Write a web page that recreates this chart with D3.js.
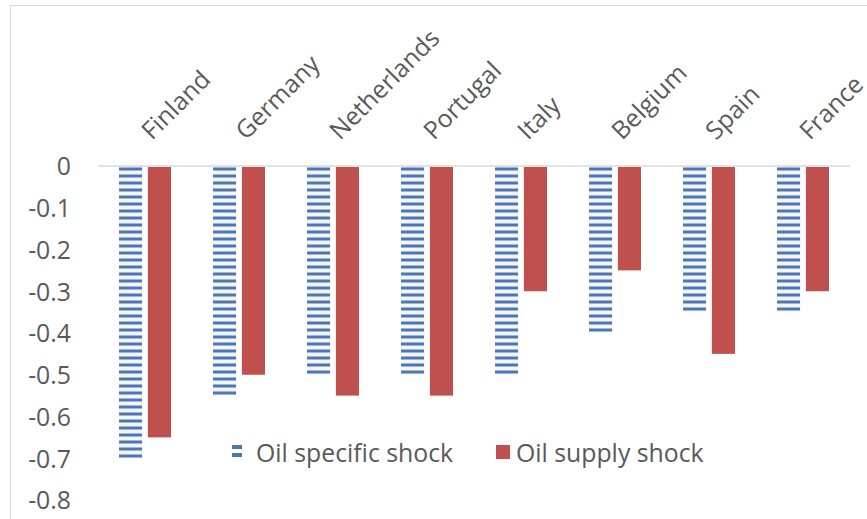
<!DOCTYPE html>
<html><head><meta charset="utf-8">
<script src="https://cdn.jsdelivr.net/npm/d3@7"></script>
<style>body{margin:0;background:#fff}svg{display:block}</style>
</head><body>
<svg id="c" width="867" height="519"></svg>
<script>
const categories = ["Finland","Germany","Netherlands","Portugal","Italy","Belgium","Spain","France"];
const oilSpecific = [-0.70,-0.55,-0.50,-0.50,-0.50,-0.40,-0.35,-0.35];
const oilSupply = [-0.65,-0.50,-0.55,-0.55,-0.30,-0.25,-0.45,-0.30];
const yTicks = [0,-0.1,-0.2,-0.3,-0.4,-0.5,-0.6,-0.7,-0.8];
const seriesNames = ["Oil specific shock","Oil supply shock"];

const svg = d3.select("#c");
const font = "'Open Sans', sans-serif";
const txt = "#595959";

// fit font size to reference legend text width
const probe = svg.append("text").attr("font-family",font).attr("font-size",20).text(seriesNames[0]);
const w20 = probe.node().getComputedTextLength();
probe.remove();
const fs = Math.round(20*197/w20*10)/10;

svg.append("rect").attr("x",10.5).attr("y",5.5).attr("width",900).attr("height",600)
  .attr("fill","none").attr("stroke","#d9d9d9");

const defs = svg.append("defs");
const pat = defs.append("pattern").attr("id","stripe").attr("patternUnits","userSpaceOnUse")
  .attr("width",8).attr("height",7.0).attr("y",166);
pat.append("rect").attr("width",8).attr("height",7).attr("fill","#f3f6fb");
pat.append("rect").attr("y",1.5).attr("width",8).attr("height",3).attr("fill","#4f76b4");

const x = d3.scaleBand().domain(categories).range([98,850]);
const y = d3.scaleLinear().domain([0,-0.8]).range([166,500]);
const inner = d3.scaleBand().domain([0,1]).range([x.bandwidth()/2-26, x.bandwidth()/2+26]).paddingInner(0.2);

const yAxis = d3.axisLeft(y).tickValues(yTicks)
  .tickFormat(d => d===0 ? "0" : d3.format(".1f")(d).replace("\u2212","-")).tickSize(0).tickPadding(0);
const ga = svg.append("g").attr("transform","translate(71,0)").call(yAxis);
ga.select(".domain").remove();
ga.selectAll("text").attr("font-family",font).attr("font-size",fs).attr("fill",txt).attr("dy","0.36em");

svg.append("line").attr("x1",98).attr("x2",850).attr("y1",y(0)).attr("y2",y(0))
  .attr("stroke","#d9d9d9").attr("stroke-width",1.5);

const g = svg.append("g");
g.selectAll("rect.s1").data(categories).join("rect").attr("class","s1")
  .attr("x",(d)=>x(d)+inner(0)).attr("width",inner.bandwidth())
  .attr("y",y(0)+1).attr("height",(d,i)=>y(oilSpecific[i])-y(0)-1)
  .attr("fill","url(#stripe)");
g.selectAll("rect.s2").data(categories).join("rect").attr("class","s2")
  .attr("x",(d)=>x(d)+inner(1)).attr("width",inner.bandwidth())
  .attr("y",y(0)+1).attr("height",(d,i)=>y(oilSupply[i])-y(0)-1)
  .attr("fill","#c0504d");

svg.selectAll("text.cat").data(categories).join("text").attr("class","cat")
  .attr("transform",d=>`translate(${x(d)+x.bandwidth()/2+7},141) rotate(-45)`)
  .attr("font-family",font).attr("font-size",fs).attr("fill",txt).text(d=>d);

const lg = svg.append("g");
lg.append("rect").attr("x",232).attr("y",445).attr("width",10).attr("height",4).attr("fill","#4f76b4");
lg.append("rect").attr("x",232).attr("y",453).attr("width",10).attr("height",4).attr("fill","#4f76b4");
lg.append("text").attr("x",256).attr("y",462).attr("font-family",font).attr("font-size",fs).attr("fill",txt).text(seriesNames[0]);
lg.append("rect").attr("x",496).attr("y",445).attr("width",14).attr("height",14).attr("fill","#c0504d");
lg.append("text").attr("x",516).attr("y",462).attr("font-family",font).attr("font-size",fs).attr("fill",txt).text(seriesNames[1]);
</script>
</body></html>
